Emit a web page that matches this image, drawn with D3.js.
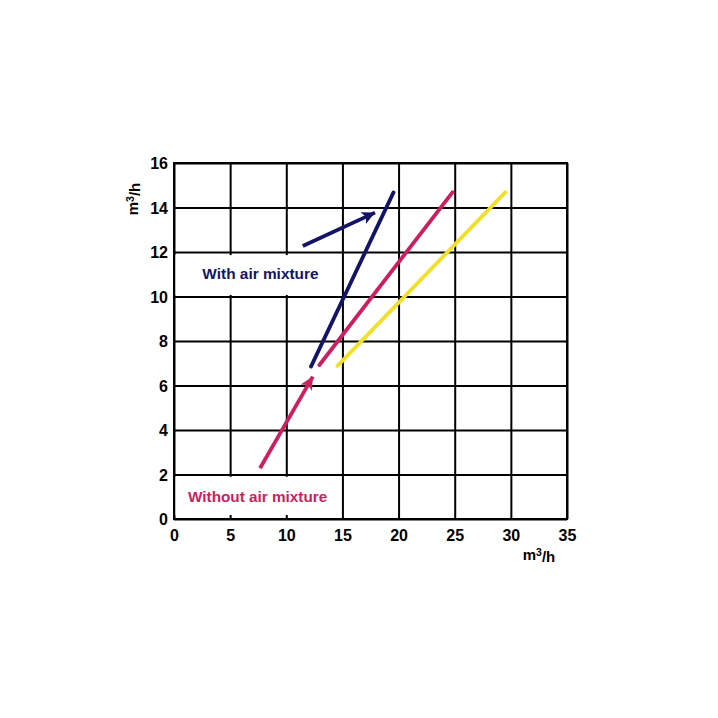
<!DOCTYPE html>
<html><head><meta charset="utf-8">
<script src="https://cdn.jsdelivr.net/npm/d3@7"></script>
<style>
html,body{margin:0;padding:0;background:#fff;}
svg{display:block;font-family:"Liberation Sans",Arial,sans-serif;}
</style></head>
<body><svg id="c" width="718" height="718"></svg>
<script>
const xTicks = [0,5,10,15,20,25,30,35];
const yTicks = [0,2,4,6,8,10,12,14,16];
const xLabel = "m3/h";
const yLabel = "m3/h";
// lines: [x, y] pairs
const blueLine = [[12.2,6.85],[19.55,14.68]];
const pinkLine = [[12.95,6.92],[24.8,14.68]];
const yellowLine = [[14.56,6.88],[29.5,14.68]];
const withAirArrow = [[11.47,12.27],[17.9,13.77]];
const withoutAirArrow = [[7.66,2.28],[12.36,6.4]];
const labels = ["With air mixture","Without air mixture"];

const svg = d3.select("#c");
const L=174, R=567, T=163, B=519;
const x = d3.scaleLinear().domain([0,35]).range([L,R]);
const y = d3.scaleLinear().domain([0,16]).range([B,T]);

const xAxis = svg.append("g").attr("transform",`translate(0,${B})`)
  .call(d3.axisBottom(x).tickValues(xTicks).tickSize(-(B-T)).tickPadding(11).tickSizeOuter(0));
const yAxis = svg.append("g").attr("transform",`translate(${L},0)`)
  .call(d3.axisLeft(y).tickValues(yTicks).tickSize(-(R-L)).tickPadding(6).tickSizeOuter(0));
[xAxis,yAxis].forEach(g=>{
  g.select(".domain").remove();
  g.selectAll(".tick line").attr("stroke","#000").attr("stroke-width",2);
  g.selectAll(".tick text").attr("fill","#000").style("font-size","16px").style("font-weight","bold");
});
yAxis.selectAll(".tick text").attr("dy","0.36em");
// border
svg.append("rect").attr("x",L).attr("y",T).attr("width",R-L).attr("height",B-T)
  .attr("fill","none").attr("stroke","#000").attr("stroke-width",2);

// white label boxes
svg.append("rect").attr("x",L+1.5).attr("y",y(11.86)).attr("width",x(14.8)-L-1.5).attr("height",y(10.07)-y(11.86)).attr("fill","#fff");
svg.append("rect").attr("x",L+1.5).attr("y",y(1.9)).attr("width",x(14.8)-L-1.5).attr("height",y(0.18)-y(1.9)).attr("fill","#fff");

const line = d3.line().x(d=>x(d[0])).y(d=>y(d[1]));
const navy="#141466", pink="#cc1f5f", yellow="#f0e028";

const defs = svg.append("defs");
function marker(id,color){
  defs.append("marker").attr("id",id).attr("viewBox","0 0 10 10").attr("refX",10).attr("refY",5)
    .attr("markerWidth",16).attr("markerHeight",13).attr("markerUnits","userSpaceOnUse").attr("orient","auto")
    .append("path").attr("d","M0,0L10,5L0,10L2.5,5Z").attr("fill",color);
}
marker("mb",navy); marker("mp",pink);

const sw = 3.8;
svg.append("path").datum(yellowLine).attr("d",line).attr("stroke",yellow).attr("stroke-width",sw).attr("fill","none").attr("stroke-linecap","round");
svg.append("path").datum(pinkLine).attr("d",line).attr("stroke",pink).attr("stroke-width",sw).attr("fill","none").attr("stroke-linecap","round");
svg.append("path").datum(blueLine).attr("d",line).attr("stroke",navy).attr("stroke-width",sw).attr("fill","none").attr("stroke-linecap","round");
svg.append("path").datum(withAirArrow).attr("d",line).attr("stroke",navy).attr("stroke-width",sw).attr("fill","none").attr("marker-end","url(#mb)");
svg.append("path").datum(withoutAirArrow).attr("d",line).attr("stroke",pink).attr("stroke-width",sw).attr("fill","none").attr("marker-end","url(#mp)");

svg.append("text").attr("x",x(7.7)).attr("y",y(10.78)).attr("text-anchor","middle").attr("fill",navy)
  .style("font-size","15.4px").style("font-weight","bold").text(labels[0]);
svg.append("text").attr("x",x(7.45)).attr("y",y(0.78)).attr("text-anchor","middle").attr("fill",pink)
  .style("font-size","15.3px").style("font-weight","bold").text(labels[1]);

function unitLabel(t,sel){
  sel.append("tspan").text(t[0]);
  sel.append("tspan").attr("dy","-0.4em").style("font-size","10.5px").text(t[1]);
  sel.append("tspan").attr("dy","0.4em").text(t.slice(2));
}
const xl = svg.append("text").attr("x",539).attr("y",560).attr("text-anchor","middle").attr("fill","#000")
  .style("font-size","15px").style("font-weight","bold");
unitLabel(xLabel,xl);
const yl = svg.append("text").attr("transform","translate(138,199) rotate(-90)").attr("text-anchor","middle").attr("fill","#000")
  .style("font-size","15px").style("font-weight","bold");
unitLabel(yLabel,yl);
</script></body></html>
